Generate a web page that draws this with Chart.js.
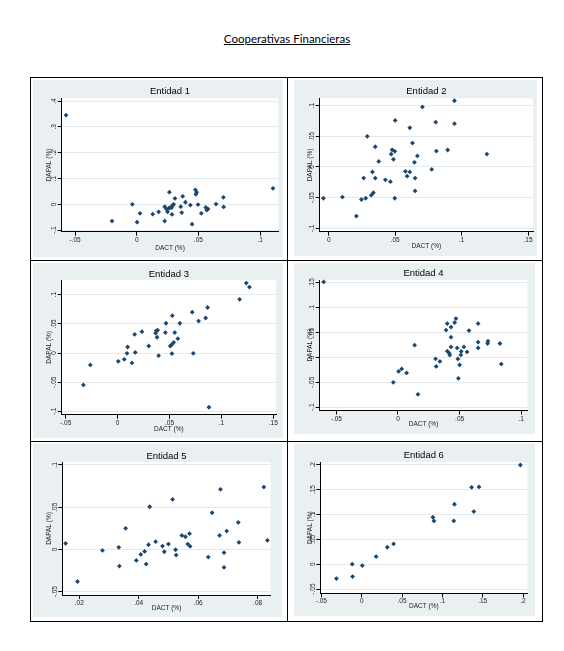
<!DOCTYPE html>
<html>
<head>
<meta charset="utf-8">
<script src="https://cdn.jsdelivr.net/npm/chart.js@4.4.1/dist/chart.umd.min.js"></script>
<style>
  body { margin: 0; background: #fff; width: 564px; height: 651px; position: relative; overflow: hidden; }
  #title { position: absolute; left: 0; width: 574px; top: 32px; text-align: center;
           font-family: Lato, "Open Sans", sans-serif; font-size: 11.5px; color: #000; text-decoration: underline; }
  #box { position: absolute; left: 30px; top: 77px; width: 511px; height: 543px; border: 1px solid #000; }
  .ln { position: absolute; background: #000; }
  canvas { position: absolute; }
</style>
</head>
<body>
<div id="title">Cooperativas Financieras</div>
<div id="box"></div>
<div class="ln" style="left:287px;top:77px;width:1px;height:545px"></div>
<div class="ln" style="left:30px;top:260px;width:513px;height:1px"></div>
<div class="ln" style="left:30px;top:441px;width:513px;height:1px"></div>
<canvas id="c1"></canvas>
<canvas id="c2"></canvas>
<canvas id="c3"></canvas>
<canvas id="c4"></canvas>
<canvas id="c5"></canvas>
<canvas id="c6"></canvas>
<script>
// DACT (%) on x, DAPAL (%) on y, one pair per entidad
const dact1 = [-0.0573, -0.020, -0.0035, 0.0003, 0.0027, 0.013, 0.0178, 0.0227, 0.0265, 0.0227, 0.024, 0.025, 0.026, 0.027, 0.0284, 0.029, 0.030, 0.031, 0.0286, 0.0357, 0.0365, 0.0373, 0.0395, 0.0435, 0.0449, 0.0476, 0.0486, 0.048, 0.0497, 0.0524, 0.056, 0.0568, 0.0578, 0.0643, 0.0703, 0.0705, 0.1105];
const dapal1 = [0.345, -0.065, 0, -0.069, -0.035, -0.038, -0.029, -0.065, 0.047, -0.009, -0.018, -0.029, -0.016, -0.013, -0.013, -0.004, 0, 0.023, -0.039, -0.009, -0.032, 0.031, 0.008, -0.003, -0.077, 0.056, 0.047, 0.039, -0.001, -0.035, -0.012, -0.022, -0.018, 0.001, 0.027, -0.010, 0.062];

const dact2 = [-0.004, 0.0103, 0.0208, 0.0246, 0.0278, 0.0263, 0.029, 0.032, 0.0336, 0.0329, 0.035, 0.035, 0.0376, 0.0426, 0.0464, 0.047, 0.0477, 0.0487, 0.0497, 0.0497, 0.050, 0.0577, 0.059, 0.061, 0.061, 0.063, 0.0645, 0.065, 0.065, 0.0667, 0.0705, 0.0775, 0.0805, 0.081, 0.0895, 0.0946, 0.0946, 0.119];
const dapal2 = [-0.051, -0.049, -0.080, -0.053, -0.051, -0.018, 0.050, -0.046, -0.042, -0.008, -0.018, 0.033, 0.009, -0.021, -0.024, 0.021, 0.028, 0.0125, 0.0255, -0.051, 0.076, -0.007, -0.015, -0.008, 0.064, 0.039, 0.0076, -0.018, -0.039, 0.018, 0.098, -0.004, 0.073, 0.026, 0.0277, 0.108, 0.0707, 0.021];

const dact3 = [-0.033, -0.0263, 0.0006, 0.0064, 0.009, 0.0096, 0.0138, 0.0164, 0.017, 0.0234, 0.030, 0.0366, 0.0372, 0.038, 0.0385, 0.0395, 0.046, 0.0466, 0.0507, 0.052, 0.0523, 0.0527, 0.054, 0.055, 0.058, 0.060, 0.0719, 0.0729, 0.078, 0.0848, 0.0867, 0.088, 0.1175, 0.124, 0.127];
const dapal3 = [-0.0547, -0.0205, -0.0142, -0.0108, -0.0006, 0.0103, -0.017, 0.0319, 0.001, 0.0365, 0.012, 0.034, 0.038, 0.027, 0.039, -0.0046, 0.035, 0.051, 0.012, 0.014, -0.001, 0.064, 0.018, 0.035, 0.0245, 0.051, 0.070, -0.0006, 0.0547, 0.060, 0.078, -0.093, 0.092, 0.12, 0.113];

const dact4 = [-0.0603, -0.0038, 0.0005, 0.003, 0.007, 0.0135, 0.0162, 0.0305, 0.031, 0.034, 0.039, 0.040, 0.040, 0.0416, 0.042, 0.043, 0.043, 0.043, 0.046, 0.047, 0.048, 0.0486, 0.049, 0.050, 0.051, 0.0513, 0.0535, 0.056, 0.0576, 0.065, 0.065, 0.065, 0.0727, 0.073, 0.0827, 0.0838];
const dapal4 = [0.1516, -0.050, -0.028, -0.023, -0.031, 0.0246, -0.074, -0.0027, -0.018, -0.008, 0.055, 0.068, 0.0126, 0.0086, 0.0047, 0.061, 0.0406, 0.021, 0.070, 0.078, 0.019, -0.003, -0.042, -0.015, 0.005, 0.012, 0.021, 0.011, 0.054, 0.019, 0.0306, 0.068, 0.028, 0.0326, 0.028, -0.0133];

const dact5 = [0.0154, 0.0194, 0.0278, 0.0333, 0.0335, 0.0356, 0.0392, 0.0407, 0.0420, 0.0425, 0.0433, 0.0437, 0.0457, 0.0480, 0.0486, 0.0500, 0.0514, 0.0524, 0.0526, 0.0545, 0.0557, 0.0565, 0.0571, 0.0573, 0.0634, 0.0647, 0.0672, 0.0675, 0.0687, 0.0687, 0.0696, 0.0735, 0.0737, 0.0821, 0.0833];
const dapal5 = [0.0071, -0.038, -0.0012, 0.0024, -0.0197, 0.0249, -0.013, -0.006, -0.0024, -0.0174, 0.0055, 0.0505, 0.0091, 0.0039, -0.0028, 0.0063, 0.0592, -0.0004, -0.0067, 0.0166, 0.015, 0.0063, 0.0186, 0.0036, -0.0091, 0.0434, 0.0166, 0.0711, -0.0039, -0.0213, 0.0217, 0.032, 0.0083, 0.0738, 0.0107];

const dact6 = [-0.0313, -0.0117, -0.0113, 0.0008, 0.0179, 0.0317, 0.0396, 0.0883, 0.0896, 0.1142, 0.115, 0.1363, 0.139, 0.1454, 0.1967];
const dapal6 = [-0.0288, 0, -0.0248, -0.0027, 0.0154, 0.0341, 0.0408, 0.0944, 0.087, 0.087, 0.1205, 0.1546, 0.1058, 0.1553, 0.1995];

// tick values and their stata-style labels
const xTicks1 = [-0.05, 0, 0.05, 0.1],              xLabels1 = ["-.05", "0", ".05", ".1"];
const yTicks1 = [-0.1, 0, 0.1, 0.2, 0.3, 0.4],      yLabels1 = ["-.1", "0", ".1", ".2", ".3", ".4"];
const xTicks2 = [0, 0.05, 0.1, 0.15],               xLabels2 = ["0", ".05", ".1", ".15"];
const yTicks2 = [-0.1, -0.05, 0, 0.05, 0.1],        yLabels2 = ["-.1", "-.05", "0", ".05", ".1"];
const xTicks3 = [-0.05, 0, 0.05, 0.1, 0.15],        xLabels3 = ["-.05", "0", ".05", ".1", ".15"];
const yTicks3 = [-0.1, -0.05, 0, 0.05, 0.1],        yLabels3 = ["-.1", "-.05", "0", ".05", ".1"];
const xTicks4 = [-0.05, 0, 0.05, 0.1],              xLabels4 = ["-.05", "0", ".05", ".1"];
const yTicks4 = [-0.1, -0.05, 0, 0.05, 0.1, 0.15],  yLabels4 = ["-.1", "-.05", "0", ".05", ".1", ".15"];
const xTicks5 = [0.02, 0.04, 0.06, 0.08],           xLabels5 = [".02", ".04", ".06", ".08"];
const yTicks5 = [-0.05, 0, 0.05, 0.1],              yLabels5 = ["-.05", "0", ".05", ".1"];
const xTicks6 = [-0.05, 0, 0.05, 0.1, 0.15, 0.2],   xLabels6 = ["-.05", "0", ".05", ".1", ".15", ".2"];
const yTicks6 = [-0.05, 0, 0.05, 0.1, 0.15, 0.2],   yLabels6 = ["-.05", "0", ".05", ".1", ".15", ".2"];

const FONT = '"Liberation Sans", Arial, sans-serif';
const BG = '#EAF0F2';
const GRID = '#E3EAEE';
const MARK = '#1A476F';
const SMALL = 6.5;

// box = gray graph region [l, t, r, b], plot = white plot region, page pixels
const panels = [
  { id: 'c1', title: 'Entidad 1', x: dact1, y: dapal1, xt: xTicks1, xl: xLabels1, yt: yTicks1, yl: yLabels1,
    box: [33, 80, 283, 257], plot: [61.7, 98.3, 278.3, 231.7], titleY: 91.7, xTitleY: 248.3, xr: [-0.0608, 0.1148], yr: [-0.106, 0.4105] },
  { id: 'c2', title: 'Entidad 2', x: dact2, y: dapal2, xt: xTicks2, xl: xLabels2, yt: yTicks2, yl: yLabels2,
    box: [294, 80, 537, 256], plot: [319.7, 98.3, 533, 231.7], titleY: 91.7, xTitleY: 246.5, xr: [-0.0068, 0.1537], yr: [-0.1055, 0.112] },
  { id: 'c3', title: 'Entidad 3', x: dact3, y: dapal3, xt: xTicks3, xl: xLabels3, yt: yTicks3, yl: yLabels3,
    box: [33, 263, 283, 438], plot: [61.7, 280, 276, 414.7], titleY: 274, xTitleY: 429, xr: [-0.0539, 0.1526], yr: [-0.1058, 0.1252] },
  { id: 'c4', title: 'Entidad 4', x: dact4, y: dapal4, xt: xTicks4, xl: xLabels4, yt: yTicks4, yl: yLabels4,
    box: [294, 263, 535, 434], plot: [319.7, 280, 527.3, 410.5], titleY: 273, xTitleY: 424.5, xr: [-0.0635, 0.1049], yr: [-0.1065, 0.1554] },
  { id: 'c5', title: 'Entidad 5', x: dact5, y: dapal5, xt: xTicks5, xl: xLabels5, yt: yTicks5, yl: yLabels5,
    box: [33, 444, 282, 617], plot: [62.3, 462, 270.7, 595], titleY: 456, xTitleY: 608.5, xr: [0.0143, 0.0844], yr: [-0.054, 0.1035] },
  { id: 'c6', title: 'Entidad 6', x: dact6, y: dapal6, xt: xTicks6, xl: xLabels6, yt: yTicks6, yl: yLabels6,
    box: [294, 444, 535, 616], plot: [320.3, 462, 527.3, 593.3], titleY: 455.7, xTitleY: 606.5, xr: [-0.0513, 0.2053], yr: [-0.0585, 0.2055] }
];

// white plot area + rotated y tick labels (stata style)
const plotBg = {
  id: 'plotBg',
  beforeDraw(chart) {
    const a = chart.chartArea, ctx = chart.ctx;
    ctx.save();
    ctx.fillStyle = '#fff';
    ctx.fillRect(a.left, a.top, a.right - a.left, a.bottom - a.top);
    ctx.restore();
  }
};
const yLabelsPlugin = {
  id: 'yLabels',
  afterDraw(chart, args, opts) {
    const s = chart.scales.y, ctx = chart.ctx;
    ctx.save();
    ctx.font = SMALL + 'px ' + FONT;
    ctx.fillStyle = '#222';
    ctx.textAlign = 'center';
    ctx.textBaseline = 'middle';
    opts.values.forEach((v, i) => {
      ctx.save();
      ctx.translate(s.right - 7.5, s.getPixelForValue(v));
      ctx.rotate(-Math.PI / 2);
      ctx.fillText(opts.labels[i], 0, 0);
      ctx.restore();
    });
    ctx.restore();
  }
};

panels.forEach(p => {
  const cv = document.getElementById(p.id);
  const W = p.box[2] - p.box[0], H = p.box[3] - p.box[1];
  cv.width = W; cv.height = H;
  cv.style.left = p.box[0] + 'px'; cv.style.top = p.box[1] + 'px';
  cv.style.background = BG;

  const tc = p.titleY - p.box[1];
  const plotTop = p.plot[1] - p.box[1];
  const titleLH = 9.5 * 1.2;
  const smallLH = SMALL * 1.2;

  new Chart(cv, {
    type: 'scatter',
    data: {
      datasets: [{
        data: p.x.map((v, i) => ({ x: v, y: p.y[i] })),
        pointStyle: 'rectRot',
        pointRadius: 2.4,
        pointBackgroundColor: MARK,
        pointBorderColor: MARK,
        pointBorderWidth: 0,
        clip: false
      }]
    },
    options: {
      responsive: false,
      animation: false,
      events: [],
      layout: { padding: { left: 0, top: 0, bottom: 0, right: p.box[2] - p.plot[2] } },
      plugins: {
        legend: { display: false },
        tooltip: { enabled: false },
        title: {
          display: true, text: p.title, color: '#000', fullSize: false,
          font: { family: FONT, size: 9.5, weight: 'normal' },
          padding: { top: tc - titleLH / 2, bottom: plotTop - tc - titleLH / 2 }
        },
        yLabels: { values: p.yt, labels: p.yl }
      },
      scales: {
        x: {
          type: 'linear', min: p.xr[0], max: p.xr[1],
          afterBuildTicks: s => { s.ticks = p.xt.map(v => ({ value: v })); },
          afterFit: s => { s.height = p.box[3] - p.plot[3]; },
          border: { display: true, color: '#000', width: 1 },
          grid: { drawOnChartArea: false, drawTicks: true, tickLength: 4, tickColor: '#000' },
          ticks: {
            autoSkip: false, maxRotation: 0, padding: 0.5, color: '#222',
            font: { family: FONT, size: SMALL },
            callback: (v, i) => p.xl[i]
          },
          title: {
            display: true, text: 'DACT (%)', color: '#222', font: { family: FONT, size: SMALL },
            padding: { top: 0, bottom: p.box[3] - p.xTitleY - smallLH / 2 }
          }
        },
        y: {
          type: 'linear', min: p.yr[0], max: p.yr[1],
          afterBuildTicks: s => { s.ticks = p.yt.map(v => ({ value: v })); },
          afterFit: s => { s.width = p.plot[0] - p.box[0]; },
          border: { display: true, color: '#000', width: 1 },
          grid: { color: GRID, lineWidth: 1, drawTicks: true, tickLength: 4, tickColor: '#000' },
          ticks: { display: false },
          title: { display: true, text: 'DAPAL (%)', color: '#222', font: { family: FONT, size: SMALL }, padding: { top: 12, bottom: 0 } }
        }
      }
    },
    plugins: [plotBg, yLabelsPlugin]
  });
});
</script>
</body>
</html>
